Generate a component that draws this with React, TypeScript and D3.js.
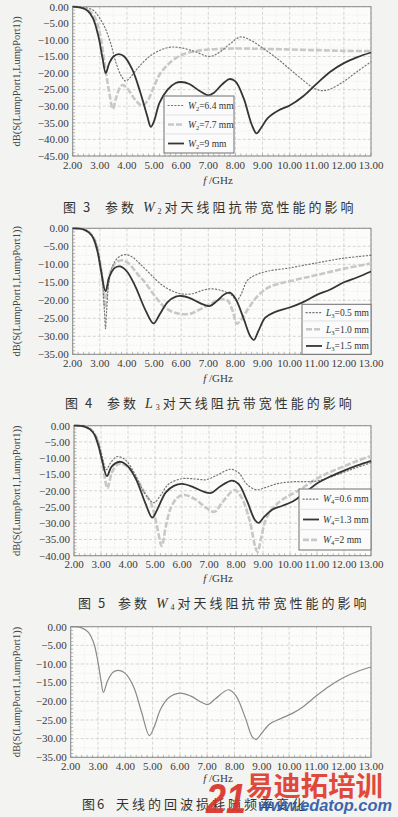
import React, { useEffect } from "react";
import * as d3 from "d3";

// ---- data ----
const freqTicks = [2, 3, 4, 5, 6, 7, 8, 9, 10, 11, 12, 13];

// Fig 3: W2 sweep
const w2_64 = [[2,0],[2.4,-0.2],[2.7,-0.8],[2.85,-1.8],[3.0,-3.5],[3.2,-6.5],[3.4,-11],[3.6,-17],[3.8,-21],[3.95,-22.4],[4.1,-21.5],[4.4,-18.5],[4.8,-15.2],[5.2,-13.2],[5.6,-12.2],[6.0,-12.4],[6.5,-13.5],[7.05,-15],[7.4,-13.8],[7.8,-11.2],[8.2,-9.1],[8.6,-10.3],[9.1,-13],[9.6,-16],[10.0,-18.8],[10.4,-21.5],[10.9,-24.6],[11.2,-25.3],[11.5,-24.8],[12.0,-22.5],[12.5,-19.5],[13,-16.6]];
const w2_77 = [[2,0],[2.4,-0.3],[2.6,-1.2],[2.8,-3],[3.0,-8],[3.2,-18.5],[3.35,-26],[3.48,-30.8],[3.6,-27.5],[3.75,-24.2],[3.85,-23.6],[4.0,-24.5],[4.3,-28],[4.55,-29.8],[4.75,-28.5],[5.0,-24],[5.2,-20.5],[5.5,-17.5],[5.8,-15.5],[6.2,-14],[6.6,-13.3],[7.0,-12.9],[8.0,-12.6],[9.0,-12.7],[10,-12.9],[11,-13.1],[12,-13.3],[13,-13.4]];
const w2_90 = [[2,0],[2.3,-0.3],[2.55,-1.2],[2.75,-3.5],[2.95,-9],[3.1,-15.5],[3.22,-20],[3.35,-17],[3.5,-15],[3.7,-14.3],[3.9,-15],[4.2,-19],[4.5,-26],[4.75,-33],[4.88,-36.2],[5.0,-34.5],[5.2,-29],[5.5,-25],[5.8,-23],[6.0,-22.7],[6.3,-23.3],[6.7,-25.5],[7.0,-26.7],[7.2,-26],[7.5,-23.5],[7.78,-21.8],[8.0,-22.5],[8.3,-27.5],[8.6,-35.5],[8.78,-38.2],[8.95,-36.5],[9.2,-33.5],[9.6,-31.2],[10.0,-29.8],[10.5,-27],[11.0,-23.2],[11.5,-19.6],[12.0,-17],[12.5,-15.2],[13,-13.8]];

// Fig 4: L3 sweep
const l3_05 = [[2,0],[2.5,-0.5],[2.8,-3],[3.0,-9],[3.1,-15],[3.17,-23],[3.21,-27.9],[3.25,-23],[3.35,-14],[3.5,-10],[3.7,-8],[3.95,-7.3],[4.2,-8],[4.5,-10],[4.9,-13],[5.3,-15.8],[5.7,-17.5],[6.0,-18.2],[6.4,-18.2],[6.8,-17.2],[7.1,-16.8],[7.5,-17.3],[7.85,-18.5],[8.05,-20],[8.2,-18.5],[8.45,-14.4],[8.8,-12.8],[9.2,-11.9],[10.0,-11],[11.0,-9.6],[12.0,-8.3],[13,-7.5]];
const l3_10 = [[2,0],[2.5,-0.5],[2.8,-3],[3.0,-9],[3.12,-16],[3.19,-22],[3.26,-18],[3.4,-12],[3.6,-9.5],[3.85,-8.9],[4.1,-10],[4.4,-12.8],[4.65,-14.9],[5.0,-18.5],[5.4,-22],[5.8,-23.5],[6.3,-23.8],[6.7,-22.5],[7.1,-20.9],[7.4,-19.8],[7.7,-20],[7.9,-23],[8.05,-26.5],[8.2,-25.5],[8.46,-22.5],[8.8,-19],[9.2,-16.5],[9.6,-15.4],[10.0,-14.7],[10.5,-13.8],[11.0,-13],[12.0,-11.2],[13,-9.8]];
const l3_15 = [[2,0],[2.4,-0.3],[2.7,-2],[2.9,-6],[3.05,-12],[3.21,-17.5],[3.35,-13.5],[3.55,-11],[3.75,-10.6],[4.0,-12],[4.3,-16],[4.7,-23],[4.98,-26.4],[5.2,-24],[5.5,-20.5],[5.8,-19],[6.0,-18.8],[6.3,-19.3],[6.7,-20.8],[7.05,-21.6],[7.3,-20.3],[7.6,-18.3],[7.8,-17.9],[8.0,-19.5],[8.3,-25],[8.55,-30],[8.68,-31],[8.85,-28.5],[9.1,-24.8],[9.45,-23.3],[10.0,-22],[10.5,-20.5],[11.0,-18.5],[11.5,-17],[12.0,-15],[12.5,-13.6],[13,-12]];

// Fig 5: W4 sweep
const w4_06 = [[2,0],[2.5,-0.4],[2.8,-3],[3.0,-8],[3.2,-13.5],[3.35,-11.5],[3.6,-9.5],[3.9,-10.5],[4.2,-14],[4.6,-20.5],[4.95,-23.7],[5.2,-21.5],[5.5,-18],[6.0,-16.3],[6.5,-16.4],[6.9,-16.6],[7.3,-15.2],[7.8,-13.4],[8.1,-14.5],[8.4,-18],[8.75,-19.7],[9.1,-19],[9.5,-17.9],[10.0,-17.3],[10.6,-17.2],[11.0,-17],[11.5,-15.8],[12.0,-14.3],[12.5,-12.8],[13,-11.4]];
const w4_13 = [[2,0],[2.4,-0.3],[2.7,-2],[2.9,-6],[3.05,-11],[3.22,-15.5],[3.4,-12.5],[3.72,-11.1],[4.0,-12.5],[4.3,-16.5],[4.65,-24],[4.9,-28.3],[5.1,-25.5],[5.4,-20.5],[5.7,-18.5],[6.0,-17.9],[6.4,-18.8],[6.8,-20.3],[7.08,-20.7],[7.4,-18.8],[7.85,-16.9],[8.1,-18],[8.4,-23],[8.7,-29],[8.84,-29.9],[9.05,-28],[9.35,-25.8],[9.7,-24.7],[10.1,-23.3],[10.5,-21],[11.0,-17.8],[11.5,-15.6],[12.0,-13.8],[12.5,-12.2],[13,-10.8]];
const w4_20 = [[2,0],[2.5,-0.4],[2.8,-3],[3.0,-9],[3.12,-15],[3.24,-19.3],[3.4,-14.5],[3.6,-12],[3.75,-11.6],[4.0,-12.8],[4.3,-16],[4.6,-20.5],[4.86,-24],[5.05,-30],[5.25,-37],[5.4,-31],[5.6,-25],[5.85,-22],[6.1,-21.3],[6.5,-22.7],[6.9,-25.3],[7.2,-26.5],[7.5,-23.5],[7.95,-19.8],[8.2,-22],[8.5,-29],[8.72,-37.5],[8.8,-38.8],[8.92,-35],[9.1,-29],[9.4,-25],[9.8,-22.3],[10.3,-20],[11.0,-16.3],[11.5,-14.2],[12.0,-12.5],[12.5,-10.8],[13,-9.3]];

// Fig 6: final antenna
const s11 = [[2,0],[2.4,-0.3],[2.65,-1.5],[2.85,-4.5],[3.0,-9.5],[3.1,-14],[3.2,-17.6],[3.35,-14.5],[3.55,-12.2],[3.75,-11.7],[4.0,-12.5],[4.3,-16],[4.6,-23],[4.88,-29.2],[5.05,-27],[5.3,-22],[5.6,-19],[6.0,-17.8],[6.4,-18.6],[6.8,-20.3],[7.02,-20.9],[7.3,-19.3],[7.78,-16.9],[8.05,-18.5],[8.4,-24.5],[8.65,-29.5],[8.8,-30.2],[9.0,-28.5],[9.3,-26],[9.7,-24.6],[10.1,-23.3],[10.5,-21.5],[11.0,-18.5],[11.5,-15.8],[12.0,-13.6],[12.5,-12],[13,-10.8]];

const w2Labels = ["6.4  mm", "7.7  mm", "9  mm"];
const l3Labels = ["0.5  mm", "1.0  mm", "1.5  mm"];
const w4Labels = ["0.6 mm", "1.3 mm", "2  mm"];

// ---- styles ----
const STYLES: Record<string, any> = {
  dot: { stroke: "#777", strokeWidth: 1.2, strokeDasharray: "1.2 2.2", strokeLinecap: "round" },
  gray: { stroke: "#c8c8c8", strokeWidth: 2.6, strokeDasharray: "6 2" },
  solid: { stroke: "#353535", strokeWidth: 1.8 },
  single: { stroke: "#8a8a8a", strokeWidth: 1.2 },
};
const SERIF = "'Liberation Serif', 'DejaVu Serif', serif";
const CJK = "'Noto Sans CJK SC', sans-serif";

const charts = [
  {
    key: "f3", left: 72.7, right: 371, top: 6.7, bottom: 156, yMin: -45,
    series: [{ d: w2_77, s: "gray" }, { d: w2_64, s: "dot" }, { d: w2_90, s: "solid" }],
    legend: { x: 164, y: 96, w: 70, h: 57, sym: "W", sub: "2", labels: w2Labels, styles: ["dot", "gray", "solid"] },
    xlab: 184, cap: { y: 212, nx: 63, tx: 105, num: "图 3", parts: ["参数 ", "W", "2", "对天线阻抗带宽性能的影响"] },
  },
  {
    key: "f4", left: 72.7, right: 371, top: 228.3, bottom: 354.3, yMin: -35,
    series: [{ d: l3_10, s: "gray" }, { d: l3_05, s: "dot" }, { d: l3_15, s: "solid" }],
    legend: { x: 302, y: 304.3, w: 69, h: 50, sym: "L", sub: "3", labels: l3Labels, styles: ["dot", "gray", "solid"] },
    xlab: 382, cap: { y: 408, nx: 65, tx: 107, num: "图 4", parts: ["参数 ", "L", "3", "对天线阻抗带宽性能的影响"] },
  },
  {
    key: "f5", left: 74, right: 371, top: 425.7, bottom: 555.7, yMin: -40,
    series: [{ d: w4_20, s: "gray" }, { d: w4_06, s: "dot" }, { d: w4_13, s: "solid" }],
    legend: { x: 299, y: 489, w: 72, h: 61, sym: "W", sub: "4", labels: w4Labels, styles: ["dot", "solid", "gray"] },
    xlab: 582, cap: { y: 608, nx: 78, tx: 118, num: "图 5", parts: ["参数 ", "W", "4", "对天线阻抗带宽性能的影响"] },
  },
  {
    key: "f6", left: 70.7, right: 371, top: 626.7, bottom: 757.3, yMin: -35,
    series: [{ d: s11, s: "single" }],
    legend: null,
    xlab: 782, cap: { y: 809, nx: 82, tx: 116, num: "图6", parts: ["天线的回波损耗随频率变化"] },
  },
];

function Chart({ c }: { c: any }) {
  const x = d3.scaleLinear().domain([2, 13]).range([c.left, c.right]);
  const y = d3.scaleLinear().domain([0, c.yMin]).range([c.top, c.bottom]);
  const line = d3
    .line<number[]>()
    .x((d) => x(d[0]))
    .y((d) => y(d[1]))
    .curve(d3.curveCatmullRom.alpha(0.5));
  const fmt = d3.format(".2f");
  const yTicks = d3.range(0, c.yMin - 0.1, -5);
  const yMinor = d3.range(0, c.yMin - 0.1, -1);
  const xMinor = d3.range(2, 13.01, 0.2);
  const xHalf = d3.range(2.5, 13, 1);
  const yHalf = d3.range(-2.5, c.yMin, -5);
  const L = c.legend;
  const cap = c.cap;

  return (
    <g>
      <rect x={c.left} y={c.top} width={c.right - c.left} height={c.bottom - c.top} fill="#fcfcfb" />
      {/* minor grid */}
      {xHalf.map((t: number) => (
        <line key={"xh" + t} x1={x(t)} x2={x(t)} y1={c.top} y2={c.bottom} stroke="#dedede" strokeWidth={0.6} strokeDasharray="1 2" />
      ))}
      {yHalf.map((t: number) => (
        <line key={"yh" + t} x1={c.left} x2={c.right} y1={y(t)} y2={y(t)} stroke="#dedede" strokeWidth={0.6} strokeDasharray="1 2" />
      ))}
      {/* major grid */}
      {freqTicks.map((t) => (
        <line key={"xg" + t} x1={x(t)} x2={x(t)} y1={c.top} y2={c.bottom} stroke="#c4c4c4" strokeWidth={0.7} strokeDasharray="3 2" />
      ))}
      {yTicks.map((t: number) => (
        <line key={"yg" + t} x1={c.left} x2={c.right} y1={y(t)} y2={y(t)} stroke="#c4c4c4" strokeWidth={0.7} strokeDasharray="3 2" />
      ))}
      {/* minor ticks */}
      {yMinor.map((t: number) => (
        <line key={"ym" + t} x1={c.left} x2={c.left + 2.5} y1={y(t)} y2={y(t)} stroke="#888" strokeWidth={0.6} />
      ))}
      {xMinor.map((t: number, i: number) => (
        <line key={"xm" + i} x1={x(t)} x2={x(t)} y1={c.bottom} y2={c.bottom - 2.5} stroke="#888" strokeWidth={0.6} />
      ))}
      <rect x={c.left} y={c.top} width={c.right - c.left} height={c.bottom - c.top} fill="none" stroke="#8a8a8a" strokeWidth={1} />

      {/* curves */}
      {c.series.map((s: any, i: number) => (
        <path key={i} d={line(s.d) || ""} fill="none" {...STYLES[s.s]} />
      ))}

      {/* tick labels */}
      {yTicks.map((t: number) => (
        <text key={"yl" + t} x={c.left - 4} y={y(t) + 3.8} textAnchor="end" fontSize={11} fontFamily={SERIF} fill="#3a3a3a">
          {fmt(t)}
        </text>
      ))}
      {freqTicks.map((t) => (
        <text key={"xl" + t} x={x(t)} y={c.bottom + 12.5} textAnchor="middle" fontSize={11} fontFamily={SERIF} fill="#3a3a3a">
          {fmt(t)}
        </text>
      ))}
      <text
        transform={`translate(${20},${(c.top + c.bottom) / 2}) rotate(-90)`}
        textAnchor="middle"
        fontSize={10.5}
        fontFamily={SERIF}
        fill="#444"
      >
        dB(S(LumpPort1,LumpPort1))
      </text>
      <text x={218} y={c.xlab} textAnchor="middle" fontSize={11} fontFamily={SERIF} fill="#3a3a3a">
        <tspan fontStyle="italic">f</tspan> /GHz
      </text>

      {/* legend */}
      {L && (
        <g>
          <rect x={L.x} y={L.y} width={L.w} height={L.h} fill="#fbfbfb" stroke="#707070" strokeWidth={1} />
          {L.labels.map((lab: string, i: number) => {
            const rh = L.h / L.labels.length;
            const cy = L.y + rh * (i + 0.5);
            return (
              <g key={i}>
                {i > 0 && <line x1={L.x} x2={L.x + L.w} y1={L.y + rh * i} y2={L.y + rh * i} stroke="#d0d0d0" strokeWidth={0.6} />}
                <line x1={L.x + 4} x2={L.x + 20} y1={cy} y2={cy} fill="none" {...STYLES[L.styles[i]]} />
                <text x={L.x + 24} y={cy + 3.3} fontSize={9.5} fontFamily={SERIF} fill="#333">
                  <tspan fontStyle="italic">{L.sym}</tspan>
                  <tspan fontSize={6.5} dy={2}>{L.sub}</tspan>
                  <tspan dy={-2}>={lab}</tspan>
                </text>
              </g>
            );
          })}
        </g>
      )}

      {/* caption */}
      <text x={cap.nx} y={cap.y} fontSize={13} fontFamily={CJK} fill="#333" letterSpacing={2}>
        {cap.num}
      </text>
      <text x={cap.tx} y={cap.y} fontSize={13} fontFamily={CJK} fill="#333" letterSpacing={3}>
        {cap.parts.length > 1 ? (
          <>
            <tspan>{cap.parts[0]}</tspan>
            <tspan fontFamily={SERIF} fontStyle="italic" fontSize={14}>{cap.parts[1]}</tspan>
            <tspan fontFamily={SERIF} fontSize={8} dy={2}>{cap.parts[2]}</tspan>
            <tspan dy={-2}>{cap.parts[3]}</tspan>
          </>
        ) : (
          cap.parts[0]
        )}
      </text>
    </g>
  );
}

export default function App() {
  useEffect(() => {
    document.body.style.margin = "0";
  }, []);
  return (
    <svg width={398} height={817} style={{ display: "block" }}>
      <rect x={0} y={0} width={398} height={817} fill="#f3f3f1" />
      {charts.map((c) => (
        <Chart key={c.key} c={c} />
      ))}
      {/* site watermark over the last caption */}
      <g opacity={0.92}>
        <text x={206} y={813} fontSize={42} fontWeight="bold" fontStyle="italic" fontFamily="'Liberation Sans', sans-serif" fill="#d8342a" textLength={40} lengthAdjust="spacingAndGlyphs">
          21
        </text>
        <text x={246} y={796} fontSize={27} fontWeight="bold" fontFamily={CJK} fill="#e03a2d" textLength={137} lengthAdjust="spacingAndGlyphs">
          易迪拓培训
        </text>
        <text x={258} y={811} fontSize={16} fontWeight="bold" fontStyle="italic" fontFamily="'Liberation Sans', sans-serif" fill="#2c5aa8" textLength={134} lengthAdjust="spacingAndGlyphs">
          www.edatop.com
        </text>
      </g>
    </svg>
  );
}
